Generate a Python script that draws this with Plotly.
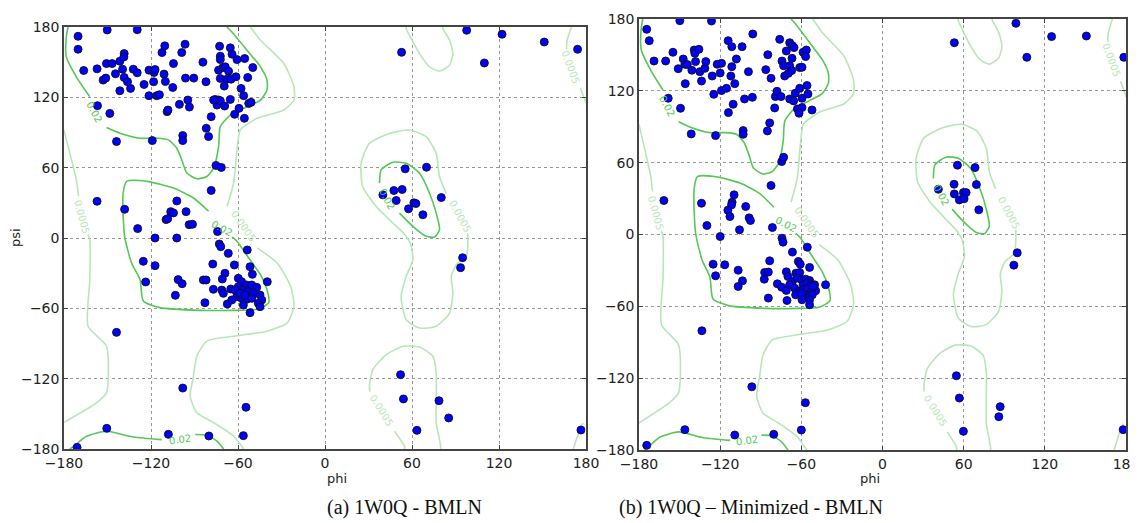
import plotly.graph_objects as go

# ---------------- data: residues (phi, psi) ----------------
a_points = [
    (-170.3,172.1),(-170.3,161),(-166.4,142.9),(-150.2,177.5),(-129.5,177.7),(-157.2,144.3),(-150.7,148.8),
    (-146.8,148.8),(-153,134.7),(-151.2,136.4),(-144.5,140.1),(-141.5,150.8),(-138.5,157.3),(-138.7,154.5),
    (-139.6,144),(-138.5,137),(-136.2,133.3),(-141.5,125.6),(-134.1,127.6),(-148.4,106.3),(-156.9,112.9),
    (-143.8,82.3),(-132.2,144),(-129.5,140.9),(-124.8,131),(-121.4,143.2),(-117.9,141.2),(-117.2,143.7),
    (-118.2,133.3),(-121.4,121.4),(-116.1,121.4),(-114.2,122.2),(-119.1,83.1),(-112.4,158.2),(-110.5,163.9),
    (-111,139.8),(-110.1,133.5),(-105,128.4),(-104.5,148.8),(-108.9,107.8),(-108.3,109.2),(-98.8,158.2),
    (-96.5,165.3),(-96.2,136.4),(-100.4,114),(-94.6,117.7),(-93.5,111.7),(-98.1,87.4),(-98.1,83.1),
    (-90.5,136.4),(-84.2,150),(-82.1,133.3),(-75.7,118.2),(-74.5,113.4),(-73.4,117.7),(-72.2,117.1),
    (-78.5,103.5),(-81.9,93.6),(-80.3,86.5),(-75.2,61.9),(-71.5,60.2),(-72.7,163.6),(-72.2,155.1),
    (-72.2,152.2),(-73.4,143.2),(-70.4,145.4),(-68.8,146),(-65.3,162.2),(-64.1,156.8),(-60.7,152.2),
    (-66.5,142.3),(-72.2,136.1),(-67.6,135.5),(-69.5,129.6),(-64.8,135.5),(-61.4,137.5),(-55.4,153.1),
    (-49.8,145.4),(-53.3,136.9),(-57.9,127.6),(-56.1,121.4),(-52.6,114.8),(-51,115.7),(-65.3,118.2),
    (-59.3,110.6),(-62.3,105.5),(-55.6,102.1),(-69.2,112.6),(-76.8,117.7),
    (-157.2,31.3),(-138.2,24.5),(-129.2,8),(-117.2,0),(-102.2,0),(-102.2,31.6),(-106.4,22.5),(-104.5,21.4),
    (-109.6,15.7),(-108.5,16.5),(-95.8,22.5),(-93.7,11.4),(-91.4,11.7),(-78.5,40.6),(-74.1,5.5),
    (-125.3,-19.9),(-117.2,-23.6),(-123.7,-37.5),(-101.3,-35.5),(-98.5,-39),(-103.2,-48.9),
    (-72.9,-5.1),(-71.9,-7.4),(-66.7,-13.1),(-53.6,-10.2),(-77.4,-22.2),(-62.5,-23),(-69,-30.1),(-70.8,-35),
    (-51.7,-24.5),(-50.1,-31),(-39.8,-37.3),(-83.9,-35.8),(-82,-35.8),(-77,-43.8),(-71.2,-44.4),(-70.1,-47.2),
    (-65,-43.5),(-82.8,-55.2),(-67.4,-56.3),(-59.8,-34.4),(-57.5,-37.3),(-54,-40.1),(-50.5,-40.1),(-47.1,-42.1),
    (-59.8,-41.5),(-62.1,-44.4),(-56.3,-44.4),(-52.9,-45.8),(-49.4,-47.2),(-44.8,-48.6),(-43.6,-52.9),
    (-46,-55.7),(-44.8,-58.6),(-60.9,-50.1),(-57.5,-51.5),(-54,-52.3),(-50.5,-51.5),(-64.3,-52.9),
    (-56.3,-57.2),(-51.7,-63.7),(-58.6,-47.2),(-55.2,-48.6),
    (-143.8,-80.5),(-98.1,-128),(-54.5,-144.4),(-56.3,-168.6),(-150.5,-162.4),(-108,-167.5),(-80.1,-168.9),
    (-171,-178.6),
    (52.8,158.4),(97.7,177.2),(122.1,173.8),(109.9,149.3),(151.2,167.2),(174.2,161),
    (55.3,59),(70,60.4),(39.9,36.8),(47.5,40.5),(53.2,41.4),(49.1,32),(61.3,30),(62.7,29.4),(57.6,24.9),
    (80.2,34.5),(67.5,19.8),
    (94.9,-16.8),(93.5,-25.3),(52.1,-116.6),(54.1,-137.3),(78.6,-138.8),(85.3,-153.5),(63.4,-164.1),
    (176.5,-163.8),
]

b_points = [
    (-174.3,171.4),(-172.4,161.9),(-168.9,144.9),(-149.8,178.6),(-126.4,178.3),(-160.3,144.9),(-154.9,152.2),
    (-151,138.5),(-147.3,146.6),(-146.1,142.2),(-144.3,141.9),(-140.9,137.2),(-139.2,154.1),(-138.7,151.3),
    (-135.7,154.7),(-138.2,144.4),(-135,136),(-133.8,128.2),(-145.8,126),(-131.3,138.8),(-130.6,144.4),
    (-125.9,132.4),(-122.2,142.2),(-119,143),(-120,134.9),(-124.7,117.1),(-119,120.2),(-115.3,122.1),
    (-158.4,113.8),(-149.3,105.4),(-141.4,84),(-123.4,82.6),(-114.1,161.9),(-111.4,156.9),(-103.8,156.9),
    (-108,146.6),(-111.4,140.2),(-112.1,132.4),(-109.2,126),(-110.4,108.8),(-113.9,101.8),(-102,113.2),
    (-95.9,167.5),(-99.1,136),(-96.2,114.6),(-103,86.8),(-103,83.7),(-84.8,150.2),(-86.3,137.7),
    (-82.4,130.5),(-79.2,115.2),(-78,119.6),(-75,115.2),(-79.7,105.7),(-83.4,93.2),(-85.1,86.5),
    (-76,163),(-74.3,144.9),(-73.1,141),(-71.1,153.3),(-68.6,160.2),(-66.6,157.7),(-65.4,156.1),
    (-68.6,141),(-66.9,147.2),(-72.3,132.4),(-69.6,134.6),(-67.1,136.9),(-61.2,139.4),(-59.5,139.7),
    (-58.7,152.2),(-56.3,154.1),(-56.8,148.6),(-68.6,113.2),(-65.7,111.6),(-64.5,118),(-61.2,122.1),
    (-59.5,113.8),(-55.8,124.4),(-55.1,117.4),(-62.9,104.9),(-59.5,106),(-61.7,101.3),(-52.1,104),
    (-74.5,60.9),(-73.1,64.5),(-82.4,40.9),
    (-161.6,28.4),(-133.8,26.1),(-129.8,7.5),(-120,-1.7),(-109.7,33.1),(-111.2,27),(-111.6,24.7),
    (-114.3,20.3),(-112.8,15),(-101.1,23.4),(-98.6,13.9),(-97.6,11.7),(-105.7,3.9),(-81.4,5.8),
    (-74.3,-3.1),(-73.5,-6.4),(-55.6,-10.6),
    (-125.2,-24.8),(-116.6,-25.3),(-123.4,-34.5),(-106.7,-29.8),(-103.5,-38.7),(-106.7,-43.4),
    (-83.4,-22),(-87.1,-31.7),(-84.4,-31.4),(-87.4,-37.3),(-84.4,-53.1),(-77.7,-41.2),(-74.5,-44),
    (-71.1,-31.2),(-69.9,-35.1),(-71.1,-46.7),(-70.6,-55.1),(-66.6,-14.7),(-62.2,-22.5),(-60.8,-24.8),
    (-53.9,-27.5),(-64,-32.3),(-61.2,-31.7),(-42.1,-42),
    (-66.6,-39.2),(-63.2,-36.4),(-60,-37.8),(-56.8,-37.3),(-53.9,-38.4),(-58.7,-42),(-55.8,-40.6),
    (-52.6,-42),(-50.2,-42),(-68.6,-42),(-64.9,-44.8),(-61.7,-47.6),(-58.7,-46.2),(-55.8,-45.6),
    (-52.6,-47.6),(-49.4,-47),(-51.4,-43.4),(-64.2,-50.4),(-56.8,-50.4),(-53.9,-51.8),(-51.9,-50.4),
    (-53.9,-54.5),(-53.9,-58.7),(-60,-49),(-59.5,-54.5),
    (-133.5,-80.4),(-96.6,-127.2),(-57,-140.5),(-60,-163.3),(-146.1,-163),(-109.2,-167.5),(-80.4,-166.9),
    (-174.3,-176.1),
    (53.1,160.2),(98.6,176.4),(106.7,148),(125,165.3),(150.7,165.8),(178.4,148),
    (55.4,57.9),(68.4,55.9),(41.3,37.8),(52.9,42),(53.1,33.9),(59.8,35),(61.8,35),(56.8,28.9),
    (60.3,29.8),(69.4,41.7),(71.2,20.6),
    (99.6,-15.3),(97.1,-25.6),(54.6,-118),(56.8,-136.6),(87,-143.8),(86,-152.2),(59.8,-164.4),
    (177.9,-163),
]

# ---------------- data: reference density contours (phi, psi) ----------------
c02_beta_a = [(-177.2,180),(-178.4,171.5),(-178.4,154.5),(-171.5,137.5),(-162.2,120.5)]
c02_beta_b = [(-150.7,94.2),(-141.5,89.4),(-127.6,85.1),(-116,85.1),(-108,83.7),(-102.2,76.6),(-98.8,66.7),
              (-95.3,55.4),(-88.4,50.5),(-81.5,52.5),(-76.8,59.6),(-73.4,78),(-72.2,95),(-65.3,104.9),
              (-53.8,112),(-44.5,117.7),(-40,126.2),(-40,134.7),(-44.5,146),(-53.8,160.2),(-65.3,177.2),(-67.6,180)]
c02_bottom_a = [(-176,-180),(-173.3,-177.7),(-164.5,-169.2),(-150.7,-164.9),(-132.2,-169.8),(-112.6,-172)]
c02_bottom_b = [(-89.5,-167.6),(-81.5,-168.2),(-74.5,-173.3),(-69.9,-180)]
c02_alpha = [(-80.3,22.8),(-90.7,34.1),(-104.5,42.6),(-123,48.3),(-136.8,48.3),(-139.2,38.4),(-139.2,18.6),
             (-138,0),(-133.4,-21.3),(-127.6,-35.5),(-125.3,-53.8),(-113.8,-59.4),(-86.1,-61.7),(-63,-61.7),
             (-46.8,-60.8),(-38.8,-55.2),(-40,-44),(-44.5,-31.3),(-52.6,-17.1),(-60.7,-2.8),(-64,1)]
c02_alphaL = [(37.6,46.8),(38.7,58.1),(46.8,64.6),(56,63.7),(65.2,55.2),(72.1,38.2),(76.7,21.2),(79,7.1),
              (75.6,0.9),(69.8,1.4),(60.6,9.9),(51.4,21.2)]

c0005_mid_a = [(-51.5,180),(-44.5,168.7),(-28.4,148.9),(-21.4,129),(-21.4,117.7),(-28.4,109.2),(-46.8,102.1),
               (-58.4,92.2),(-60.7,75.2),(-63,46.9),(-67.6,27)]
c0005_mid_b = [(-46.8,-8.5),(-33,-21.3),(-23.7,-41.2),(-21.4,-58.2),(-26,-72.4),(-40,-79.5),(-63,-83.8),
               (-81.5,-88),(-88.4,-100.8),(-90.7,-117.8),(-93,-134.8),(-88.4,-149),(-76.8,-157.5),
               (-63,-168.9),(-56.1,-180)]
c0005_left_a = [(-180,92),(-179.5,89.4),(-176,72.4),(-171.5,49.8),(-170,36)]
c0005_left_b = [(-163.5,3),(-162.2,-1.4),(-162.2,-35.5),(-163.4,-75.3),(-150.7,-92.3),(-150.7,-132.1),
                (-157.6,-140.6),(-178.4,-156.2),(-180,-157.5)]
c0005_alphaL = [(83.6,38.1),(79,52.3),(76.7,72.2),(69.8,86.4),(58.3,92.1),(44.5,89.2),(30.6,80.7),(24.9,63.7),
                (26,43.9),(35.3,26.9),(46.8,12.8),(55,3),(59,-5),(60.6,-18.5),(56,-32.7),(52.5,-49.8),
                (56,-69.7),(65.2,-76.8),(76.7,-75.3),(85.9,-64),(88.2,-46.9),(87.1,-32.7),(90.6,-22.7),
                (97.5,-15.6),(98.6,-2.8),(98.5,4)]
c0005_top = [(56,180),(56,178.6),(65.2,157.3),(72.1,146),(79,142.3),(85.9,147.4),(88.2,157.3),(85.9,168.7),
             (81.3,178.6),(81,180)]
c0005_bot_a = [(54.8,-180),(54.8,-177.7),(47.9,-164.9)]
c0005_bot_b = [(31,-131),(30.6,-126.5),(33,-112.3),(42.2,-99.5),(53.7,-92.4),(65.2,-93),(74.4,-100.9),
               (76.7,-115.2),(76.7,-137.9),(76.7,-157.8),(79,-172),(80.1,-180)]
c0005_right_a = [(170,180),(167,168.7),(166.5,161)]
c0005_right_b = [(176,128),(179.3,117.7),(180,115)]
c0005_right_c = [(171.2,-180),(175.8,-163.5),(178,-158)]

contour_02 = [c02_beta_a, c02_beta_b, c02_bottom_a, c02_bottom_b, c02_alpha, c02_alphaL]
contour_0005 = [c0005_mid_a, c0005_mid_b, c0005_left_a, c0005_left_b, c0005_alphaL, c0005_top,
                c0005_bot_a, c0005_bot_b, c0005_right_a, c0005_right_b, c0005_right_c]

# contour labels: (text, phi, psi, angle)
label_text = ["0.02", "0.02", "0.02", "0.02", "0.0005", "0.0005", "0.0005", "0.0005", "0.0005"]
label_phi = [-159, -71, -100, 43, -56, -168, 169, 93, 39]
label_psi = [107, 8.5, -172, 33, 10, 18, 146, 18, -147]
label_angle = [62, 28, -8, 62, 55, 75, 70, 62, 58]

ticks = [-180, -120, -60, 0, 60, 120, 180]
captions = ["(a) 1W0Q - BMLN", "(b) 1W0Q \u2013 Minimized - BMLN"]

DARK = "#55c855"
LIGHT = "#b6e8b6"

fig = go.Figure()
for i, pts in enumerate([a_points, b_points]):
    xa = "x" if i == 0 else "x2"
    ya = "y" if i == 0 else "y2"
    for seg in contour_0005:
        fig.add_trace(go.Scatter(x=[p[0] for p in seg], y=[p[1] for p in seg], mode="lines",
                                 line=dict(color=LIGHT, width=1.6, shape="spline", smoothing=0.6),
                                 xaxis=xa, yaxis=ya, showlegend=False, hoverinfo="skip"))
    for seg in contour_02:
        fig.add_trace(go.Scatter(x=[p[0] for p in seg], y=[p[1] for p in seg], mode="lines",
                                 line=dict(color=DARK, width=1.6, shape="spline", smoothing=0.6),
                                 xaxis=xa, yaxis=ya, showlegend=False, hoverinfo="skip"))
    fig.add_trace(go.Scatter(x=[p[0] for p in pts], y=[p[1] for p in pts], mode="markers",
                             marker=dict(color="#0000ff", size=8, line=dict(color="#111111", width=0.9)),
                             xaxis=xa, yaxis=ya, showlegend=False))
    for t, lx, ly, ang in zip(label_text, label_phi, label_psi, label_angle):
        fig.add_annotation(x=lx, y=ly, xref=xa, yref=ya, text=t, showarrow=False, textangle=ang,
                           font=dict(family="DejaVu Sans", size=10, color=DARK if t == "0.02" else LIGHT))

# page body has an 8px default margin: figure is sized/offset to fill the 1139x523 window
OFF = 8
W, H = 1139 - OFF, 523 - OFF


def px(x):
    return (x - OFF) / W


def py(y):
    return (H - (y - OFF)) / H


TITLE_FONT = dict(family="DejaVu Sans", size=13, color="#222222")
axis_common = dict(range=[-180, 180], tickvals=ticks, showgrid=True, gridcolor="#999999", griddash="dot",
                   gridwidth=1, zeroline=False, showline=True, linecolor="#444444", linewidth=1.5,
                   mirror="ticks", ticks="inside", ticklen=4, tickcolor="#444444", automargin=False,
                   ticklabeloverflow="allow",
                   tickfont=dict(family="DejaVu Sans", size=14, color="#222222"))

fig.update_layout(
    width=W, height=H, margin=dict(l=0, r=0, t=0, b=0, autoexpand=False),
    paper_bgcolor="white", plot_bgcolor="white",
    xaxis=dict(domain=[px(64), px(586)], anchor="y", **axis_common),
    yaxis=dict(domain=[py(449), py(27)], anchor="x", **axis_common),
    xaxis2=dict(domain=[px(639), px(1126)], anchor="y2", **axis_common),
    yaxis2=dict(domain=[py(450), py(19)], anchor="x2", **axis_common),
)

# axis titles
fig.add_annotation(x=px(325), y=py(478), xref="paper", yref="paper", text="phi", showarrow=False,
                   font=TITLE_FONT, yanchor="middle")
fig.add_annotation(x=px(882), y=py(478), xref="paper", yref="paper", text="phi", showarrow=False,
                   font=TITLE_FONT, yanchor="middle")
fig.add_annotation(x=px(15), y=py(238), xref="paper", yref="paper", text="psi", showarrow=False,
                   font=TITLE_FONT, textangle=-90, xanchor="center", yanchor="middle")

fig.add_annotation(x=px(325), y=py(507), xref="paper", yref="paper", text=captions[0], showarrow=False,
                   font=dict(family="Liberation Serif", size=20, color="#111111"), yanchor="middle")
fig.add_annotation(x=px(885), y=py(507), xref="paper", yref="paper", text=captions[1], showarrow=False,
                   font=dict(family="Liberation Serif", size=20, color="#111111"), yanchor="middle")

fig.write_html("out.html")
